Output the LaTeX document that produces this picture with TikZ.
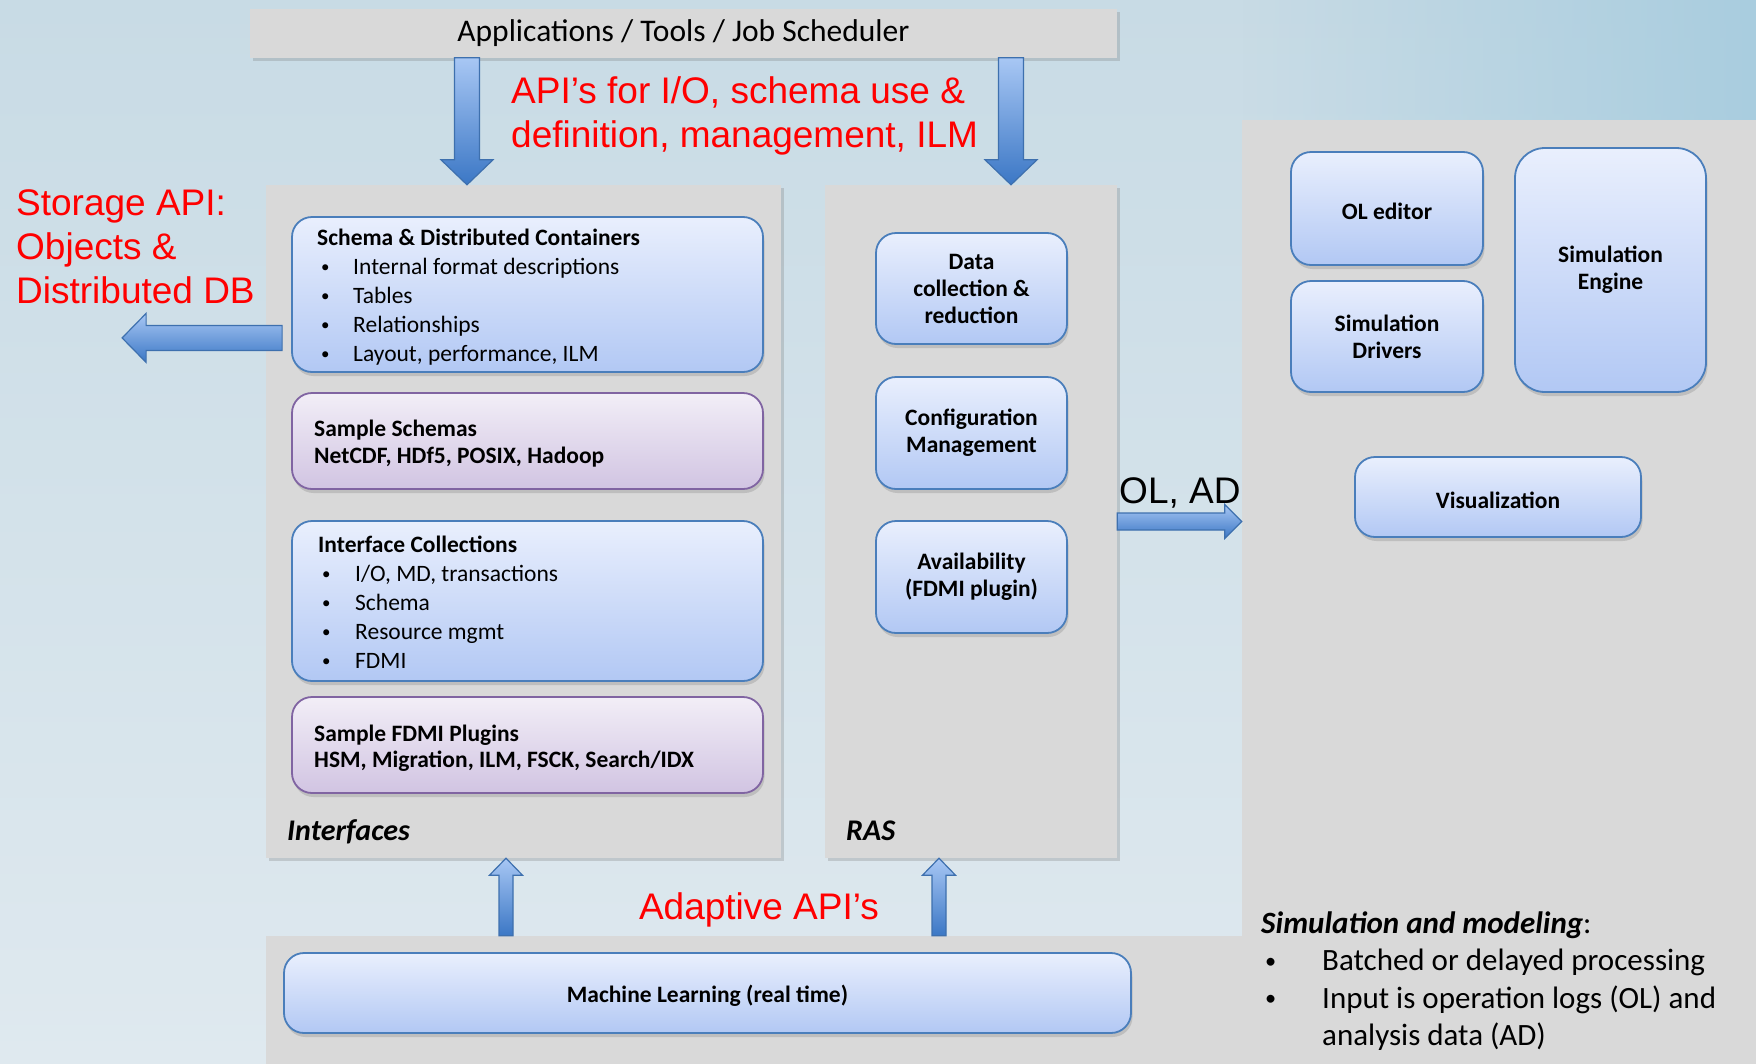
\documentclass[tikz,border=0pt]{standalone}
\usepackage{fontspec}
\setmainfont{Carlito}
\newfontfamily\arialfont{Liberation Sans}
\usetikzlibrary{calc,shadows,fadings}
\definecolor{bgtop}{HTML}{C8DBE5}
\definecolor{bgbot}{HTML}{DFE9EF}
\definecolor{bgright}{HTML}{A9CDDF}
\definecolor{panelgray}{HTML}{D9D9D9}
\definecolor{bluetop}{HTML}{E9EFFD}
\definecolor{bluebot}{HTML}{B2C8F4}
\definecolor{blueline}{HTML}{4A7EBB}
\definecolor{purptop}{HTML}{F2EEF7}
\definecolor{purpbot}{HTML}{D1C4E2}
\definecolor{purpline}{HTML}{8064A2}
\definecolor{arrlight}{HTML}{A8C7F4}
\definecolor{arrdark}{HTML}{3B77C5}
\definecolor{arrline}{HTML}{3E70AE}
\definecolor{apired}{HTML}{FF0000}
\tikzfading[name=fadeleft, left color=transparent!100, right color=transparent!0]

\newcommand{\blt}[2][36pt]{\\\makebox[#1][l]{\hspace{4pt}\raisebox{0.08em}{\scalebox{0.72}{\textbullet}}}#2}
\newcommand{\fatarrow}[5]{%
  \coordinate (fa) at ($(#2)!#5!(#1)$);
  \path[bigarrow] ($(#1)!#3!90:(#2)$) -- ($(fa)!#3!90:(#2)$) -- ($(fa)!#4!90:(#2)$) -- (#2)
    -- ($(fa)!#4!-90:(#2)$) -- ($(fa)!#3!-90:(#2)$) -- ($(#1)!#3!-90:(#2)$) -- cycle;}

\begin{document}
\begin{tikzpicture}[x=1pt,y=-1pt,
panel/.style={fill=panelgray, drop shadow={shadow xshift=2.5pt,shadow yshift=-3pt,opacity=.3}},
roundbox/.style={rounded corners=20pt, line width=1.8pt, drop shadow={shadow xshift=1.5pt,shadow yshift=-4pt,opacity=.3}},
bluebox/.style={roundbox, draw=blueline, top color=bluetop, bottom color=bluebot},
purplebox/.style={roundbox, draw=purpline, top color=purptop, bottom color=purpbot},
boxtext/.style={font=\fontsize{23.5}{29}\selectfont, align=left, anchor=base west},
ctext/.style={font=\fontsize{23.5}{27}\selectfont\bfseries, align=center, execute at begin node={\rule{0pt}{0.95em}}},
paneltitle/.style={font=\fontsize{30}{36}\selectfont\bfseries\itshape, anchor=base west},
redtext/.style={font=\arialfont\fontsize{37}{44}\selectfont, text=apired, align=left, anchor=base west},
bigarrow/.style={draw=arrline, line width=1.2pt, top color=arrlight, bottom color=arrdark}]
\tikzstyle{every node}=[inner sep=0pt]
\clip (0,0) rectangle (1756,1063);
\shade[top color=bgtop, bottom color=bgbot] (0,0) rectangle (1756,1063);
\fill[bgright, path fading=fadeleft] (1242,0) rectangle (1756,125);

\node[panel, minimum width=867pt, minimum height=49pt, font=\fontsize{31.5}{38}\selectfont] (apps) at (683.5,33) {Applications / Tools / Job Scheduler};
\node[panel, minimum width=515pt, minimum height=673pt] (iface) at (523.5,521.5) {};
\node[panel, minimum width=292pt, minimum height=673pt] (ras) at (971,521.5) {};
\node[panel, minimum width=990pt, minimum height=170pt] (mlpanel) at (761,1021) {};
\node[panel, minimum width=560pt, minimum height=990pt] (simpanel) at (1522,615) {};

\node[bluebox, minimum width=471pt, minimum height=155pt] (schema) at (527.5,294.5) {};
\node[purplebox, minimum width=471pt, minimum height=96pt] (sschema) at (527.5,441) {};
\node[bluebox, minimum width=471pt, minimum height=160pt] (icoll) at (527.5,601) {};
\node[purplebox, minimum width=471pt, minimum height=96pt] (sfdmi) at (527.5,745) {};

\node[boxtext] (schematxt) at (317,361) {\textbf{Schema \& Distributed Containers}\blt{Internal format descriptions}\blt{Tables}\blt{Relationships}\blt{Layout, performance, ILM}};
\node[boxtext, font=\fontsize{23.5}{27}\selectfont\bfseries] (sschematxt) at (314,463) {Sample Schemas\\NetCDF, HDf5, POSIX, Hadoop};
\node[boxtext] (icolltxt) at (318,668) {\textbf{Interface Collections}\blt[37pt]{I/O, MD, transactions}\blt[37pt]{Schema}\blt[37pt]{Resource mgmt}\blt[37pt]{FDMI}};
\node[boxtext, font=\fontsize{23.5}{26.5}\selectfont\bfseries] (sfdmitxt) at (314,767.5) {Sample FDMI Plugins\\HSM, Migration, ILM, FSCK, Search/IDX};

\node[bluebox, ctext, minimum width=191pt, minimum height=111pt] (datac) at (971.5,288.5) {Data\\collection \&\\reduction};
\node[bluebox, ctext, minimum width=191pt, minimum height=112pt] (config) at (971.5,433) {Configuration\\Management};
\node[bluebox, ctext, minimum width=191pt, minimum height=112pt] (avail) at (971.5,577) {Availability\\(FDMI plugin)};

\node[bluebox, ctext, minimum width=192pt, minimum height=113pt] (oled) at (1387,208.5) {OL editor};
\node[bluebox, ctext, minimum width=192pt, minimum height=111pt] (sdrv) at (1387,336.5) {Simulation\\Drivers};
\node[bluebox, ctext, minimum width=191pt, minimum height=244pt, rounded corners=30pt] (seng) at (1610.5,270) {Simulation\\Engine};
\node[bluebox, ctext, minimum width=286pt, minimum height=80pt] (vis) at (1498,497) {Visualization};
\node[bluebox, ctext, minimum width=847pt, minimum height=80pt] (ml) at (707.5,993) {Machine Learning (real time)};

\node[paneltitle] (ifacettl) at (287,840) {Interfaces};
\node[paneltitle] (rasttl) at (846,840) {RAS};

\coordinate (d1x) at (467,0);
\coordinate (d2x) at (1011,0);
\coordinate (u1x) at (506,0);
\coordinate (u2x) at (939,0);
\coordinate (stail) at ($(schema.south west)+(-9,-35)$);
\coordinate (shead) at ($(stail)+(-160,0)$);
\fatarrow{apps.south -| d1x}{iface.north -| d1x}{12.5pt}{26pt}{25pt}
\fatarrow{apps.south -| d2x}{ras.north -| d2x}{12.5pt}{26pt}{25pt}
\fatarrow{stail}{shead}{12.5pt}{24.5pt}{24pt}
\fatarrow{ras.east}{simpanel.west |- ras.east}{8.5pt}{17pt}{17pt}
\fatarrow{mlpanel.north -| u1x}{iface.south -| u1x}{7pt}{16.5pt}{17pt}
\fatarrow{mlpanel.north -| u2x}{ras.south -| u2x}{7pt}{16.5pt}{17pt}

\node[redtext] (apitxt) at (511,147) {API’s for I/O, schema use \&\\definition, management, ILM};
\node[redtext] (stortxt) at (16,303) {Storage API:\\Objects \&\\Distributed DB};
\node[redtext, anchor=base] (adapttxt) at (759,919) {Adaptive API’s};
\node[redtext, text=black] (oladtxt) at (1119,503) {OL, AD};

\node[boxtext, font=\fontsize{31}{37.5}\selectfont] (simtxt) at (1261,1045.5) {\textbf{\textit{Simulation and modeling}}:\blt[61pt]{Batched or delayed processing}\blt[61pt]{Input is operation logs (OL) and}\\\hspace*{61pt}analysis data (AD)};
\end{tikzpicture}
\end{document}
